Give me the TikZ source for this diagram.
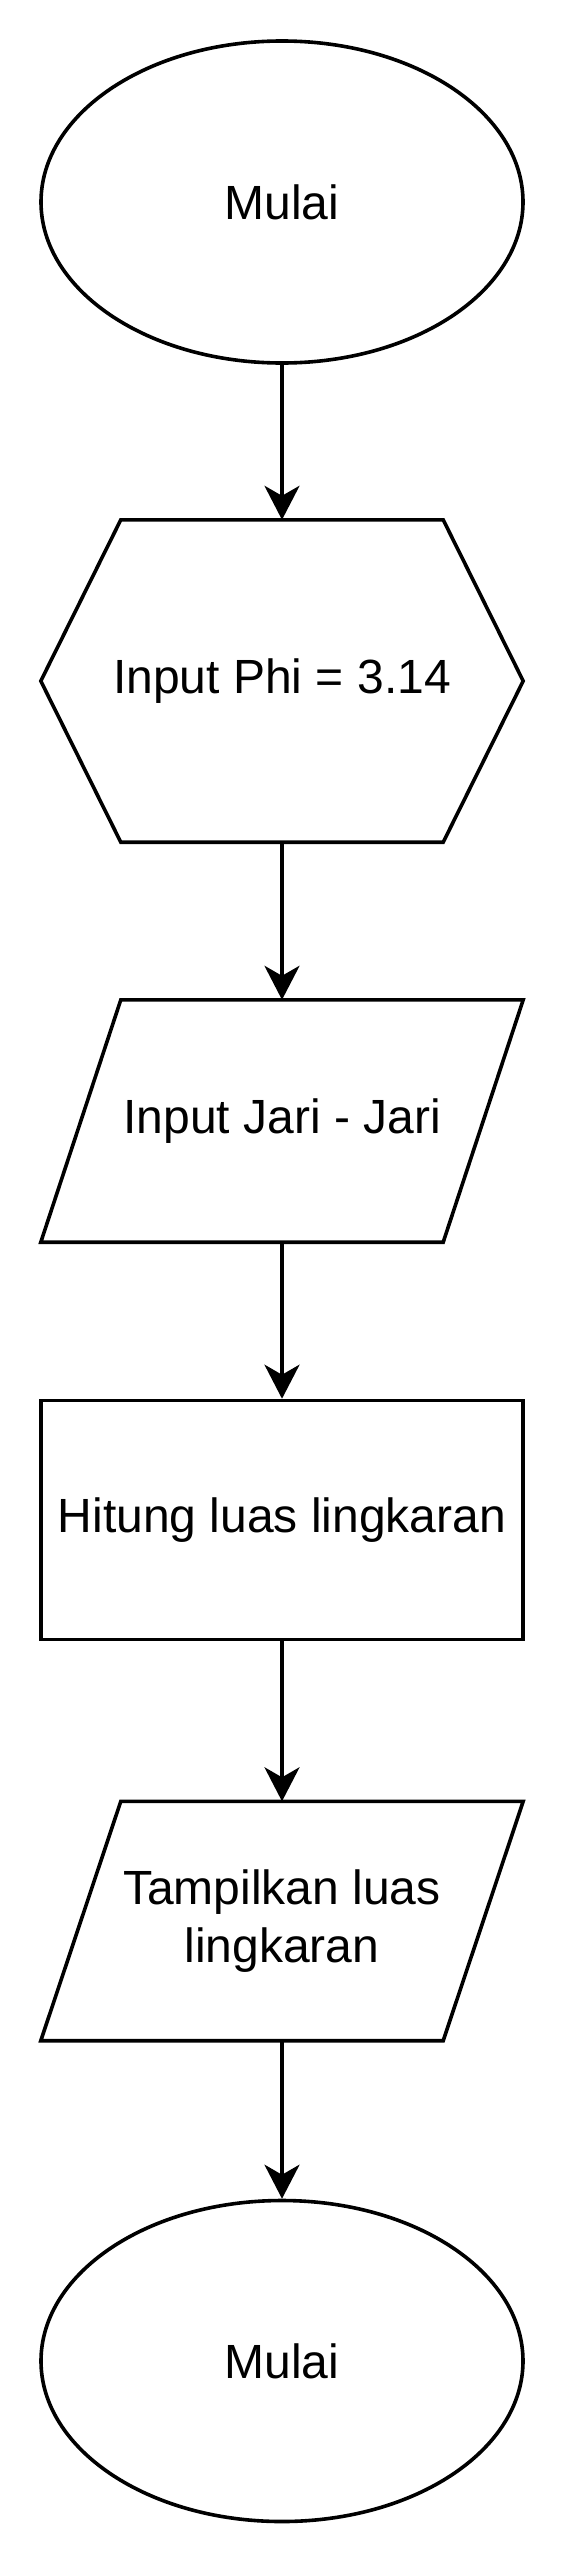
\documentclass[tikz,border=0pt]{standalone}
\usepackage{fontspec}
\setmainfont{Liberation Sans}
\usetikzlibrary{shapes.geometric,arrows.meta,calc}
\begin{document}
\begin{tikzpicture}[x=1pt,y=-1pt,
  every node/.style={font=\fontsize{48}{57.6}\selectfont, align=center, inner sep=0pt},
  shapeline/.style={draw=black, line width=3.6pt},
  term/.style={ellipse, shapeline, minimum width=482pt, minimum height=#1},
  plainbox/.style={rectangle, minimum width=482pt, minimum height=#1},
  procbox/.style={rectangle, shapeline, minimum width=482pt, minimum height=#1},
  link/.style={line width=3.6pt, -{Stealth[length=34pt,width=35pt,inset=10pt]}}]
\useasboundingbox (0,0) rectangle (564,2564);
\fill[white] (0,0) rectangle (564,2564);

\node[term=322pt] (e1) at (282,202) {Mulai};
\node[plainbox=322pt] (hex) at (282,681) {Input Phi = 3.14};
\node[plainbox=242pt] (p1) at (282,1121) {Input Jari - Jari};
\node[procbox=239pt] (r1) at (282,1520) {Hitung luas lingkaran};
\node[plainbox=239pt] (p2) at (282,1921) {Tampilkan luas \\ lingkaran};
\node[term=321pt] (e2) at (282,2361) {Mulai};

\draw[shapeline] (hex.west) -- ($(hex.north west)+(80,0)$) -- ($(hex.north east)+(-80,0)$)
  -- (hex.east) -- ($(hex.south east)+(-80,0)$) -- ($(hex.south west)+(80,0)$) -- cycle;
\draw[shapeline] ($(p1.north west)+(80,0)$) -- (p1.north east) -- ($(p1.south east)+(-80,0)$)
  -- (p1.south west) -- cycle;
\draw[shapeline] ($(p2.north west)+(80,0)$) -- (p2.north east) -- ($(p2.south east)+(-80,0)$)
  -- (p2.south west) -- cycle;

\draw[link] (e1.south) -- (hex.north);
\draw[link] (hex.south) -- (p1.north);
\draw[link] (p1.south) -- (r1.north);
\draw[link] (r1.south) -- (p2.north);
\draw[link] (p2.south) -- (e2.north);
\end{tikzpicture}
\end{document}
